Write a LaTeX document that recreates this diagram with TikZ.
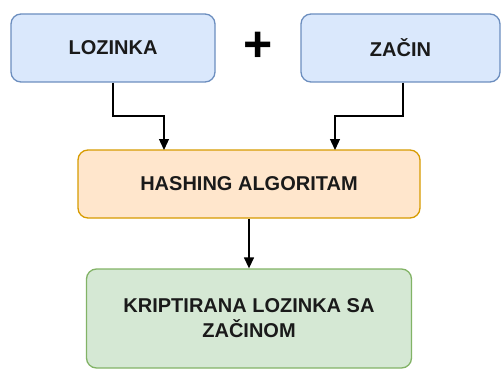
\documentclass[tikz,border=0pt]{standalone}
\usepackage{fontspec}
\setmainfont{Liberation Sans}
\usetikzlibrary{arrows.meta}
\definecolor{bfill}{HTML}{DAE8FC}\definecolor{bdraw}{HTML}{6C8EBF}
\definecolor{ofill}{HTML}{FFE6CC}\definecolor{odraw}{HTML}{D79B00}
\definecolor{gfill}{HTML}{D5E8D4}\definecolor{gdraw}{HTML}{82B366}
\definecolor{txt}{HTML}{1A1A1A}
\tikzset{
  box/.style={draw, line width=1.3pt, rounded corners=10pt, text=txt, font=\fontsize{20}{25}\selectfont\bfseries, align=center, inner sep=0pt},
  bluebox/.style={box, fill=bfill, draw=bdraw},
  orangebox/.style={box, fill=ofill, draw=odraw},
  greenbox/.style={box, fill=gfill, draw=gdraw},
  conn/.style={line width=1.3pt, -{Triangle[length=11pt,width=10pt]}}
}
\begin{document}
\begin{tikzpicture}[x=1pt,y=-1pt]
\useasboundingbox (0,0) rectangle (501,369);
\node[bluebox, minimum width=204pt, minimum height=68pt] (loz) at (113,48) {LOZINKA};
\node[bluebox, minimum width=199pt, minimum height=68pt] (zac) at (400.5,48) {ZAČIN};
\node[font=\fontsize{50}{50}\selectfont\bfseries, inner sep=0pt] (plus) at (258,47) {+};
\node[orangebox, minimum width=342pt, minimum height=68pt] (hash) at (249,184) {HASHING ALGORITAM};
\node[greenbox, minimum width=325pt, minimum height=99pt] (out) at (249,318.5) {KRIPTIRANA LOZINKA SA\\ZAČINOM};
\coordinate (hl) at (164,150);
\coordinate (hr) at (335,150);
\draw[conn] (loz.south) |- (164,116) -- (hl);
\draw[conn] (zac.south -| 403,0) |- (335,116) -- (hr);
\draw[conn] (hash.south) -- (out.north);
\end{tikzpicture}
\end{document}
